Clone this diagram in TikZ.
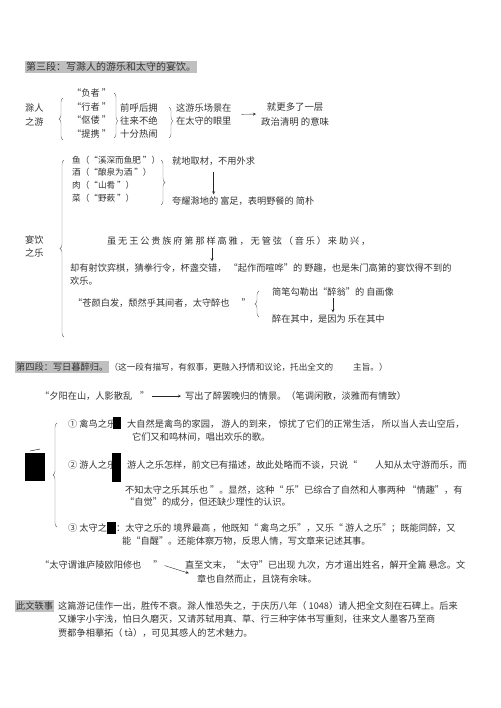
\documentclass[tikz,border=0pt]{standalone}
\usepackage{fontspec}
\setmainfont{Noto Sans CJK SC}
\usetikzlibrary{decorations.pathreplacing}
\begin{document}
\begin{tikzpicture}[x=1pt, y=-1pt,
  txt/.style={anchor=west, inner sep=0pt, align=left, text=black!80, font=\fontsize{9.2}{13.5}\selectfont},
  hdr/.style={txt, fill=black!25, inner xsep=1pt, inner ysep=1.5pt},
  brc/.style={decorate, decoration={brace, amplitude=4pt}, draw=black!60, thin},
  arr/.style={-stealth, black!85, shorten <=2pt, shorten >=2pt}]
  \useasboundingbox (0,0) rectangle (500,708);
  \node[hdr, font=\fontsize{10}{12}\selectfont] (h3) at (25,67) {第三段：写滁人的游乐和太守的宴饮。};
  \node[txt] (chu) at (25,115) {滁人\\之游};
  \draw[brc] (63,140) -- (63,98);
  \node[txt, font=\fontsize{9.2}{13.7}\selectfont] (folk) at (72,113.5) {“负者\ ”\\“行者\ ”\\“伛偻\ ”\\“提携\ ”};
  \draw[brc, decoration={aspect=0.62}] (114,93) -- (114,138);
  \node[txt, font=\fontsize{9.4}{13}\selectfont] (crowd) at (120,121) {前呼后拥\\往来不绝\\十分热闹};
  \draw[brc, decoration={aspect=0.45}] (169,107) -- (169,138);
  \node[txt, font=\fontsize{9.2}{13}\selectfont] (scene) at (176,114.5) {这游乐场景在\\在太守的眼里};
  \node[txt, align=center, font=\fontsize{9.4}{15}\selectfont] (more) at (261,114) {就更多了一层\\政治清明\ 的意味};
  \draw[arr, shorten <=10pt, shorten >=5pt] (scene.east) -- (more.west);

  \node[txt] (feast) at (25,246.5) {宴饮\\之乐};
  \draw[brc] (64,337) -- (64,160);
  \node[txt, font=\fontsize{8.6}{12.7}\selectfont] (food) at (72,179) {鱼（“溪深而鱼肥\ ”）\\酒（“酿泉为酒\ ”）\\肉（“山肴\ ”）\\菜（“野蔌\ ”）};
  \draw[brc] (161,160) -- (161,205);
  \node[txt] (local) at (172,161) {就地取材，不用外求};
  \node[txt] (boast) at (172,201) {夸耀滁地的\ 富足，表明野餐的\ 简朴};
  \draw[arr, shorten <=6pt] (local.south) -- (local.south |- boast.north);
  \node[txt, font=\fontsize{9.2}{13.5}\selectfont\addfontfeature{LetterSpace=20}] (nowang) at (107,241) {虽无王公贵族府第那样高雅，无管弦（音乐）来助兴，};
  \node[txt] (sheyin) at (70,274.5) {却有射饮弈棋，猜拳行令，杯盏交错，\ “起作而喧哗”的\ 野趣，也是朱门高第的宴饮得不到的\\欢乐。};
  \coordinate (nw) at ([xshift=105pt]nowang.south west);
  \draw[arr] (nw) -- (nw |- sheyin.north);
  \node[txt] (cangyan) at (73,303) {“苍颜白发，颓然乎其间者，太守醉也\hspace{12pt}”};
  \draw[brc] (259,317) -- (259,291);
  \node[txt] (sketch) at (272,292) {简笔勾勒出“醉翁”的\ 自画像};
  \node[txt] (drunk) at (272,319) {醉在其中，是因为\ 乐在其中};
  \draw[arr] (sketch.south) -- (sketch.south |- drunk.north);

  \node[hdr] (h4) at (15,367) {第四段：写日暮醉归。};
  \node[txt, font=\fontsize{8.6}{12}\selectfont] (aim) at (h4.east) {（这一段有描写，有叙事，更融入抒情和议论，托出全文的\hspace{20pt}主旨。）};
  \node[txt] (sunset) at (40,396) {“夕阳在山，人影散乱\hspace{8pt}”};
  \node[txt] (dusk) at (185,396) {写出了醉罢晚归的情景。（笔调闲散，淡雅而有情致）};
  \draw[arr, shorten >=4pt] (sunset.east) -- (dusk.west);

  \draw[brc] (57,527) -- (57,423);
  \fill (25,453) rectangle (45,481);
  \draw (30,451) -- (40,449);
  \node[txt] (n1) at (68,424) {①\ 禽鸟之乐};
  \fill (113,417) rectangle (121,429);
  \node[txt] (t1) at (127,430.5) {大自然是禽鸟的家园，\ 游人的到来，\ 惊扰了它们的正常生活，\ 所以当人去山空后，\\\hspace{5pt}它们又和鸣林间，唱出欢乐的歌。};
  \node[txt] (n2) at (68,465) {②\ 游人之乐};
  \fill (112,453) rectangle (121,482);
  \node[txt] (t2) at (127,465) {游人之乐怎样，前文已有描述，故此处略而不谈，只说“\hspace{18pt}人知从太守游而乐，而};
  \node[txt, font=\fontsize{9.2}{12}\selectfont] (t2b) at (125,496) {不知太守之乐其乐也\ ”。显然，这种“\ 乐”已综合了自然和人事两种\ “情趣”，有\\“自觉”的成分，但还缺少理性的认识。};
  \node[txt] (n3) at (68,528) {③\ 太守之乐};
  \fill (107,522) rectangle (116,534);
  \node[txt, font=\fontsize{9.2}{13}\selectfont] (t3) at (116,534.5) {：太守之乐的\ 境界最高\ ，他既知“\ 禽鸟之乐”，又乐“\ 游人之乐”；既能同醉，又\\\hspace{6pt}能“自醒”。还能体察万物，反思人情，写文章来记述其事。};

  \node[txt] (who) at (40,565) {“太守谓谁庐陵欧阳修也\hspace{12pt}”};
  \node[txt, font=\fontsize{9.2}{14}\selectfont] (reveal) at (185,572) {直至文末，“太守”已出现\ 九次，方才道出姓名，解开全篇\ 悬念。文\\\hspace{12pt}章也自然而止，且饶有余味。};
  \draw[arr, shorten >=-4pt] (who.east) -- (reveal.west);

  \node[hdr] (h5) at (15,606) {此文轶事};
  \node[txt] (story) at (58,619.5) {这篇游记佳作一出，胜传不衰。滁人惟恐失之，于庆历八年（\ 1048）请人把全文刻在石碑上。后来\\又嫌字小字浅，怕日久磨灭，又请苏轼用真、草、行三种字体书写重刻，往来文人墨客乃至商\\贾都争相摹拓（\ tà），可见其感人的艺术魅力。};
\end{tikzpicture}
\end{document}
